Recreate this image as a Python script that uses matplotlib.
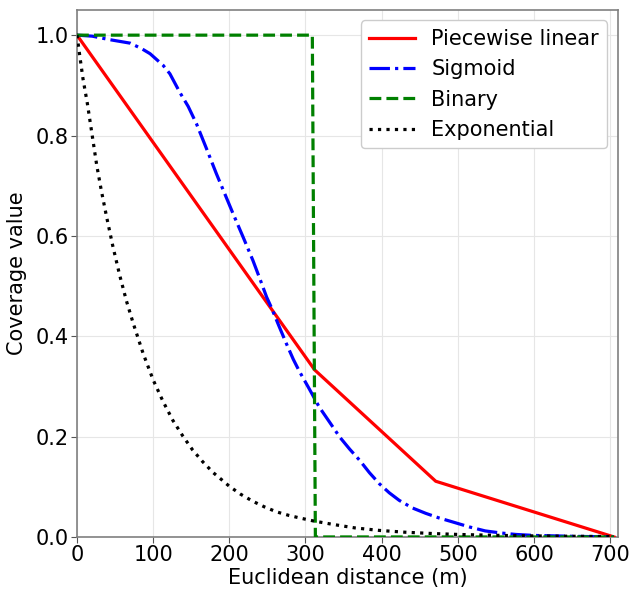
import numpy as np
import matplotlib
matplotlib.use("Agg")
import matplotlib.pyplot as plt

# values
pw_x = [0, 312, 471, 705]
pw_y = [1.0, 0.333, 0.111, 0.0]

sig_x = [0, 20, 43, 70, 85, 96, 113, 122, 135, 146, 157, 170, 183, 194, 205, 218,
         231, 240, 249, 255, 265, 275, 284, 292, 305, 318, 332, 345, 358, 371, 384,
         397, 410, 423, 440, 458, 475, 493, 515, 536, 556, 576, 600, 630, 660, 705]
sig_y = [1.0, 0.998, 0.991, 0.984, 0.973, 0.963, 0.940, 0.923, 0.886, 0.858, 0.823,
         0.774, 0.724, 0.684, 0.644, 0.598, 0.551, 0.515, 0.478, 0.458, 0.421, 0.385,
         0.354, 0.330, 0.295, 0.259, 0.228, 0.199, 0.175, 0.153, 0.128, 0.106, 0.088,
         0.073, 0.058, 0.047, 0.038, 0.030, 0.020, 0.012, 0.008, 0.005, 0.003, 0.002,
         0.001, 0.0]

bin_x = [0, 309, 313, 705]
bin_y = [1.0, 1.0, 0.0, 0.0]

exp_x = [0, 4, 8, 13.5, 20, 26, 32, 39, 47, 56, 65, 74, 87, 100, 113, 126, 139, 152,
         165, 179, 190, 200, 215, 231, 246, 262, 278, 292, 310, 336, 365, 397, 430,
         467, 500, 532, 570, 610, 660, 705]
exp_y = [1.0, 0.955, 0.912, 0.865, 0.80, 0.74, 0.69, 0.637, 0.580, 0.522, 0.470, 0.425,
         0.365, 0.313, 0.270, 0.232, 0.201, 0.173, 0.150, 0.128, 0.114, 0.101, 0.085,
         0.071, 0.060, 0.050, 0.043, 0.038, 0.032, 0.025, 0.018, 0.013, 0.0095,
         0.0068, 0.005, 0.0038, 0.0027, 0.0019, 0.0012, 0.0008]


def main():
    plt.rcParams["font.family"] = "DejaVu Sans"
    fig, ax = plt.subplots(figsize=(6.31, 5.92), dpi=100)
    fig.subplots_adjust(left=0.122, right=0.979, top=0.983, bottom=0.093)

    lw = 2.3
    ax.plot(pw_x, pw_y, color="red", lw=lw, label="Piecewise linear", zorder=3)
    ax.plot(sig_x, sig_y, color="blue", lw=lw, ls="-.", label="Sigmoid", zorder=3)
    ax.plot(bin_x, bin_y, color="green", lw=lw, ls="--", label="Binary", zorder=3)
    ax.plot(exp_x, exp_y, color="black", lw=lw, ls=":", label="Exponential", zorder=3)

    ax.set(xlim=(0, 710), ylim=(0, 1.05))
    ax.set_xticks(np.arange(0, 701, 100))
    ax.set_yticks(np.arange(0, 1.01, 0.2))
    ax.set_xlabel("Euclidean distance (m)", fontsize=15, labelpad=2)
    ax.set_ylabel("Coverage value", fontsize=15, labelpad=6)
    ax.tick_params(labelsize=15, length=4, color="#555555", pad=2)
    ax.grid(True, color="#e6e6e6", lw=0.8)
    for sp in ax.spines.values():
        sp.set_color("#808080")
        sp.set_linewidth(1.2)

    ax.legend(loc="upper right", fontsize=15, handlelength=2.2,
              borderpad=0.4, labelspacing=0.5, framealpha=1, edgecolor="#cccccc")

    fig.savefig("out.png", dpi=100)


if __name__ == "__main__":
    main()
